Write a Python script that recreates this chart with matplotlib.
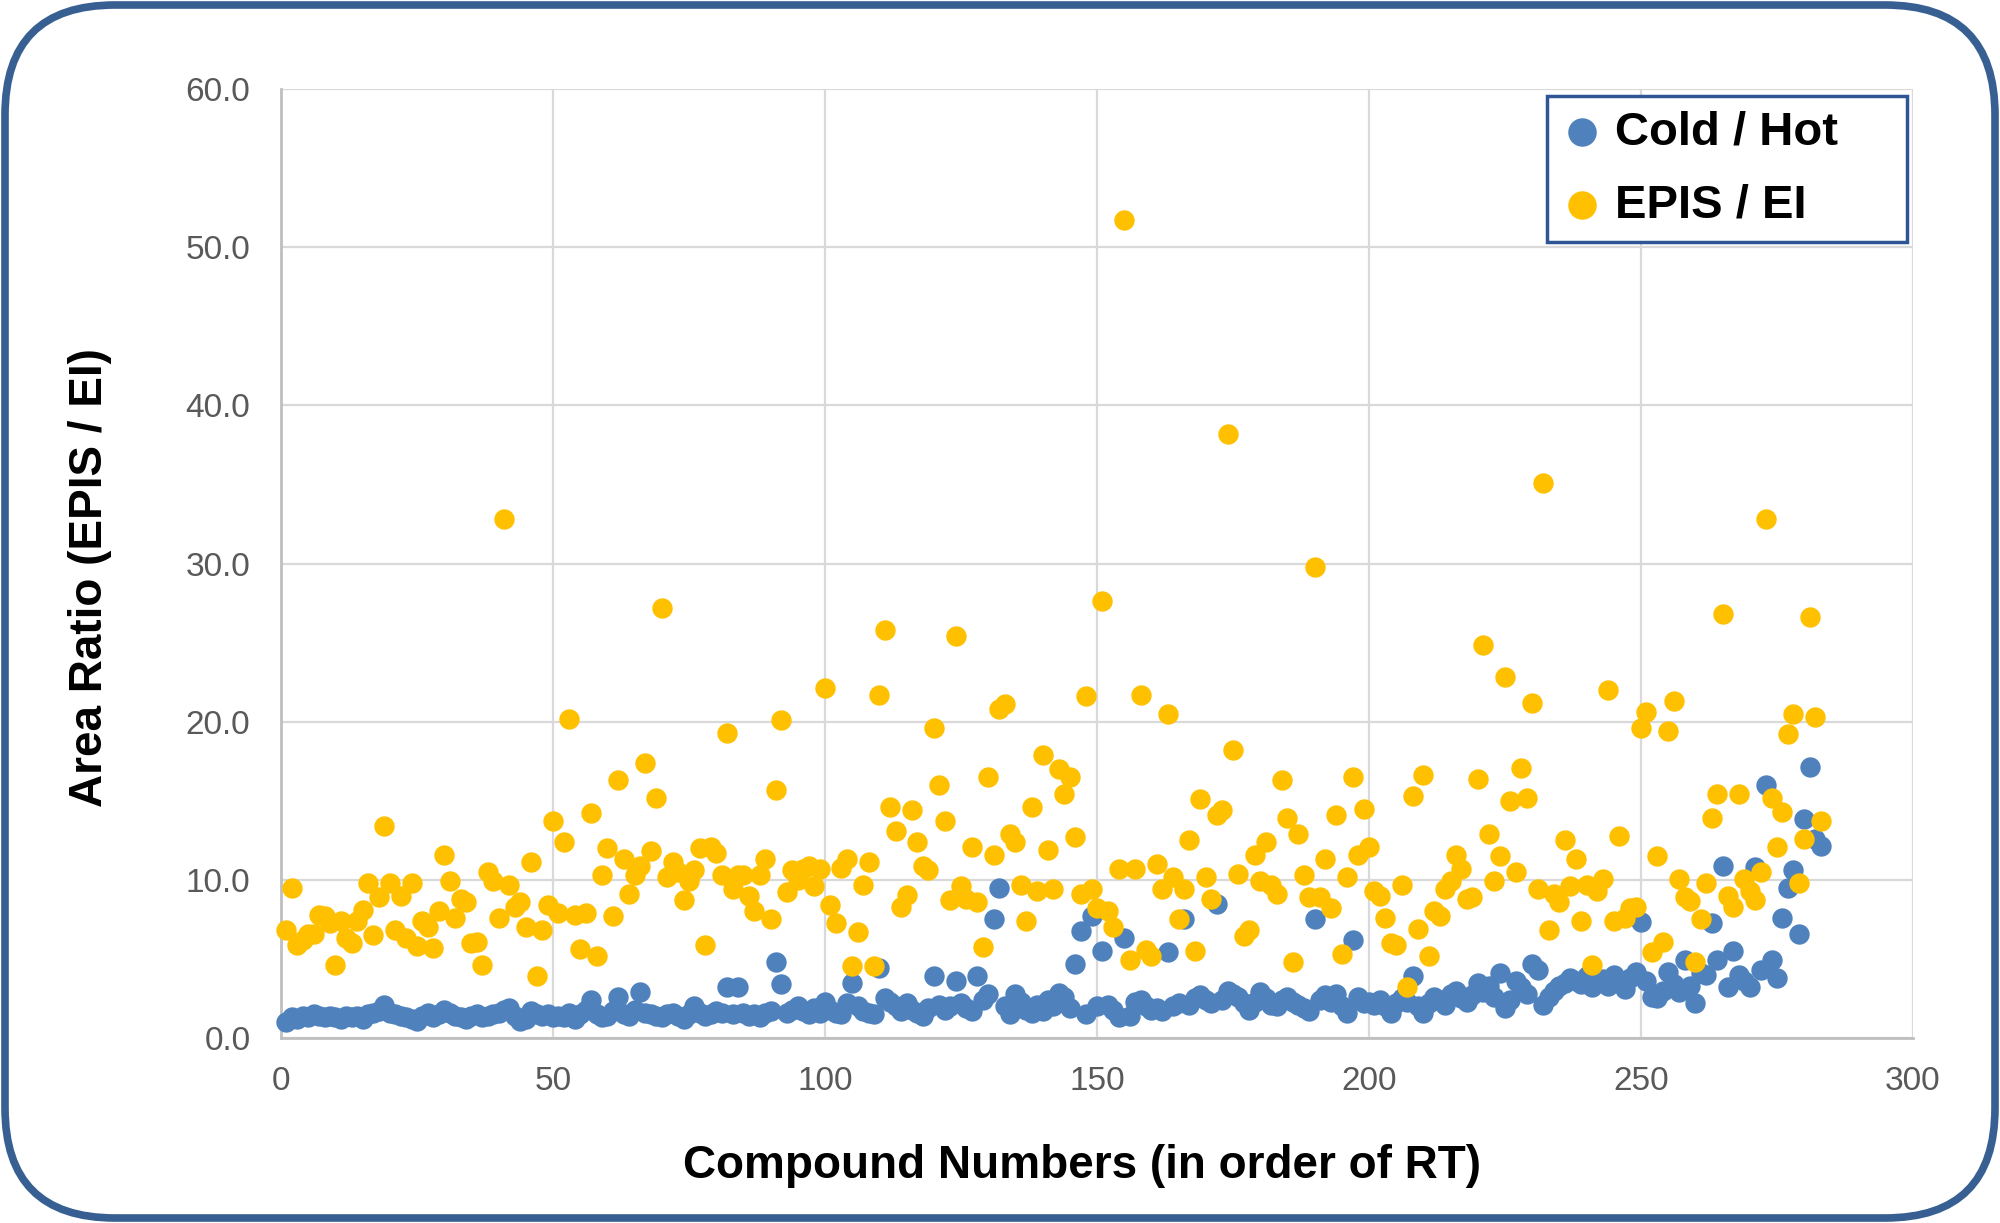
import numpy as np
import matplotlib
matplotlib.use("Agg")
import matplotlib.pyplot as plt
from matplotlib.patches import FancyBboxPatch

plt.rcParams['font.family'] = ['Liberation Sans', 'DejaVu Sans']

# ---- data -----------------------------------------------------------
compound = list(range(1, 284))

cold_hot = [
    1.0, 1.3, 1.2, 1.4, 1.3, 1.5, 1.4, 1.3, 1.4, 1.3,
    1.2, 1.4, 1.3, 1.4, 1.2, 1.5, 1.6, 1.7, 2.1, 1.6,
    1.5, 1.4, 1.3, 1.2, 1.1, 1.4, 1.6, 1.3, 1.5, 1.8,
    1.6, 1.4, 1.3, 1.2, 1.4, 1.5, 1.3, 1.4, 1.5, 1.6,
    1.8, 1.9, 1.4, 1.1, 1.2, 1.7, 1.5, 1.4, 1.5, 1.3,
    1.4, 1.3, 1.6, 1.2, 1.5, 1.8, 2.4, 1.5, 1.3, 1.4,
    1.7, 2.6, 1.5, 1.4, 1.8, 2.9, 1.6, 1.5, 1.4, 1.3,
    1.5, 1.6, 1.4, 1.2, 1.5, 2.0, 1.6, 1.4, 1.5, 1.7,
    1.6, 3.2, 1.5, 3.2, 1.6, 1.4, 1.5, 1.3, 1.6, 1.7,
    4.8, 3.4, 1.6, 1.8, 2.0, 1.7, 1.5, 1.9, 1.6, 2.3,
    1.8, 1.6, 1.5, 2.2, 3.45, 2.0, 1.7, 1.6, 1.5, 4.45,
    2.5, 2.3, 2.0, 1.7, 2.2, 1.8, 1.6, 1.4, 1.9, 3.9,
    2.1, 1.8, 2.0, 3.6, 2.2, 1.9, 1.7, 3.9, 2.4, 2.8,
    7.5, 9.5, 2.0, 1.5, 2.8, 2.3, 1.8, 1.6, 2.1, 1.7,
    2.4, 2.0, 2.85, 2.6, 1.9, 4.7, 6.75, 1.5, 7.7, 2.0,
    5.5, 2.1, 1.8, 1.3, 6.3, 1.4, 2.3, 2.4, 2.0, 1.8,
    1.9, 1.7, 5.45, 2.0, 2.2, 7.5, 2.1, 2.5, 2.7, 2.4,
    2.2, 8.5, 2.4, 3.0, 2.8, 2.6, 2.2, 1.8, 2.3, 2.9,
    2.5, 2.1, 2.0, 2.4, 2.6, 2.3, 2.1, 1.9, 1.7, 7.5,
    2.4, 2.7, 2.3, 2.8, 2.0, 1.6, 6.2, 2.6, 2.2, 2.3,
    2.1, 2.4, 2.0, 1.6, 2.2, 2.5, 2.3, 3.95, 2.0, 1.6,
    2.2, 2.6, 2.4, 2.1, 2.8, 3.0, 2.5, 2.3, 2.7, 3.5,
    2.9, 3.3, 2.6, 4.1, 1.9, 2.4, 3.6, 3.2, 2.8, 4.7,
    4.3, 2.1, 2.6, 3.0, 3.3, 3.5, 3.8, 3.6, 3.4, 3.9,
    3.2, 3.5, 3.7, 3.3, 4.0, 3.6, 3.1, 3.8, 4.2, 7.35,
    3.6, 2.6, 2.5, 3.0, 4.2, 3.4, 2.9, 4.95, 3.3, 2.2,
    4.1, 4.0, 7.3, 4.95, 10.9, 3.2, 5.5, 4.0, 3.6, 3.2,
    10.8, 4.3, 16.0, 4.9, 3.8, 7.6, 9.5, 10.6, 6.55, 13.85,
    17.15, 12.6, 12.15,
]

epis_ei = [
    6.8, 9.5, 5.9, 6.2, 6.6, 6.6, 7.8, 7.7, 7.3, 4.6,
    7.4, 6.3, 6.0, 7.4, 8.1, 9.8, 6.5, 8.9, 13.4, 9.8,
    6.8, 9.0, 6.3, 9.8, 5.8, 7.4, 7.0, 5.7, 8.0, 11.6,
    9.9, 7.6, 8.8, 8.6, 6.0, 6.1, 4.6, 10.5, 9.9, 7.6,
    32.8, 9.7, 8.3, 8.6, 7.0, 11.1, 3.9, 6.8, 8.4, 13.7,
    7.9, 12.4, 20.2, 7.8, 5.6, 7.9, 14.2, 5.2, 10.3, 12.0,
    7.7, 16.3, 11.3, 9.1, 10.3, 10.9, 17.4, 11.8, 15.2, 27.2,
    10.2, 11.1, 10.5, 8.7, 9.9, 10.6, 12.0, 5.9, 12.1, 11.7,
    10.3, 19.3, 9.4, 10.3, 10.3, 9.0, 8.0, 10.3, 11.3, 7.5,
    15.7, 20.1, 9.2, 10.6, 10.0, 10.7, 10.9, 9.6, 10.7, 22.1,
    8.4, 7.25, 10.75, 11.3, 4.55, 6.7, 9.7, 11.1, 4.55, 21.7,
    25.8, 14.6, 13.1, 8.3, 9.05, 14.4, 12.4, 10.9, 10.6, 19.6,
    16.0, 13.7, 8.7, 25.4, 9.6, 8.8, 12.05, 8.6, 5.75, 16.5,
    11.6, 20.8, 21.1, 12.9, 12.4, 9.7, 7.4, 14.6, 9.3, 17.9,
    11.9, 9.4, 17.0, 15.4, 16.5, 12.7, 9.1, 21.6, 9.4, 8.2,
    27.6, 8.0, 7.0, 10.7, 51.7, 4.9, 10.7, 21.7, 5.55, 5.2,
    11.0, 9.4, 20.5, 10.2, 7.5, 9.4, 12.5, 5.5, 15.1, 10.2,
    8.8, 14.1, 14.4, 38.2, 18.2, 10.4, 6.45, 6.8, 11.6, 9.9,
    12.4, 9.7, 9.1, 16.3, 13.9, 4.8, 12.9, 10.3, 8.9, 29.8,
    8.9, 11.3, 8.2, 14.1, 5.3, 10.2, 16.5, 11.6, 14.5, 12.1,
    9.3, 9.0, 7.6, 6.0, 5.9, 9.7, 3.25, 15.3, 6.9, 16.6,
    5.2, 8.0, 7.7, 9.4, 9.9, 11.6, 10.7, 8.8, 8.9, 16.35,
    24.85, 12.9, 9.9, 11.5, 22.8, 15.0, 10.5, 17.1, 15.2, 21.2,
    9.4, 35.1, 6.8, 9.1, 8.6, 12.5, 9.6, 11.3, 7.4, 9.7,
    4.6, 9.3, 10.05, 22.0, 7.4, 12.8, 7.6, 8.2, 8.3, 19.6,
    20.6, 5.45, 11.5, 6.1, 19.4, 21.3, 10.05, 8.9, 8.65, 4.8,
    7.5, 9.8, 13.9, 15.4, 26.8, 9.0, 8.3, 15.4, 10.05, 9.3,
    8.7, 10.5, 32.8, 15.2, 12.1, 14.3, 19.2, 20.5, 9.8, 12.6,
    26.6, 20.3, 13.7,
]

series_names = ["Cold / Hot", "EPIS / EI"]
x_ticks = [0, 50, 100, 150, 200, 250, 300]
y_ticks = [0, 10, 20, 30, 40, 50, 60]
x_title = "Compound Numbers (in order of RT)"
y_title = "Area Ratio (EPIS / EI)"

# ---- figure ---------------------------------------------------------
W, H = 2000, 1223
fig = plt.figure(figsize=(W / 100, H / 100), dpi=100)

# rounded outer frame
bg = fig.add_axes([0, 0, 1, 1])
bg.set_xlim(0, W)
bg.set_ylim(0, H)
bg.axis('off')
frame = FancyBboxPatch((5 + 110, 5 + 110), W - 10 - 220, H - 10 - 220,
                       boxstyle="round,pad=110,rounding_size=110",
                       linewidth=5.5, edgecolor='#375F91', facecolor='white')
bg.add_patch(frame)

ax_l, ax_r, ax_t, ax_b = 281, 1913, 89, 1038
AW, AH = ax_r - ax_l, ax_b - ax_t
ax = fig.add_axes([ax_l / W, (H - ax_b) / H, AW / W, AH / H])
ax.set_facecolor('none')

ax.scatter(compound, cold_hot, s=215, color='#4F81BD', label=series_names[0],
           linewidths=0, zorder=3, clip_on=False)
ax.scatter(compound, epis_ei, s=215, color='#FFC000', label=series_names[1],
           linewidths=0, zorder=4, clip_on=False)

ax.set_xlim(0, 300)
ax.set_ylim(0, 60)
ax.set_xticks(x_ticks)
ax.set_yticks(y_ticks)
ax.set_xticklabels([str(t) for t in x_ticks])
ax.set_yticklabels([f"{t:.1f}" for t in y_ticks])
ax.tick_params(axis='both', length=0, labelsize=24, labelcolor='#595959')
ax.tick_params(axis='x', pad=20)
ax.tick_params(axis='y', pad=22)

ax.grid(True, color='#D9D9D9', linewidth=1.6, zorder=0)
ax.set_axisbelow(True)
for side in ['top', 'right']:
    ax.spines[side].set_visible(False)
for side in ['left', 'bottom']:
    ax.spines[side].set_color('#BFBFBF')
    ax.spines[side].set_linewidth(2.0)

ax.set_xlabel(x_title, fontsize=33, fontweight='bold', color='black')
ax.set_ylabel(y_title, fontsize=33, fontweight='bold', color='black')
ax.xaxis.set_label_coords((1082 - ax_l) / AW, (ax_b - 1166) / AH)
ax.xaxis.label.set_va('center')
ax.yaxis.set_label_coords((90 - ax_l) / AW, (ax_b - 578) / AH)
ax.yaxis.label.set_va('center')

# legend box: full-px left 1547, right 1907, top 96, bottom 240
lx0 = (1547 - ax_l) / AW
lw = (1907 - 1547) / AW
ly0 = (ax_b - 240) / AH
lh = (240 - 96) / AH
leg = ax.legend(loc='upper left', bbox_to_anchor=(lx0, ly0, lw, lh), mode='expand',
                borderaxespad=0, fancybox=False, framealpha=1,
                prop={'size': 34, 'weight': 'bold'}, markerscale=1.4,
                handletextpad=0.25, handlelength=0.9, borderpad=0.3,
                labelspacing=0.62)
leg.get_frame().set_edgecolor('#2F5597')
leg.get_frame().set_linewidth(2.5)

fig.savefig("out.png", dpi=100)
